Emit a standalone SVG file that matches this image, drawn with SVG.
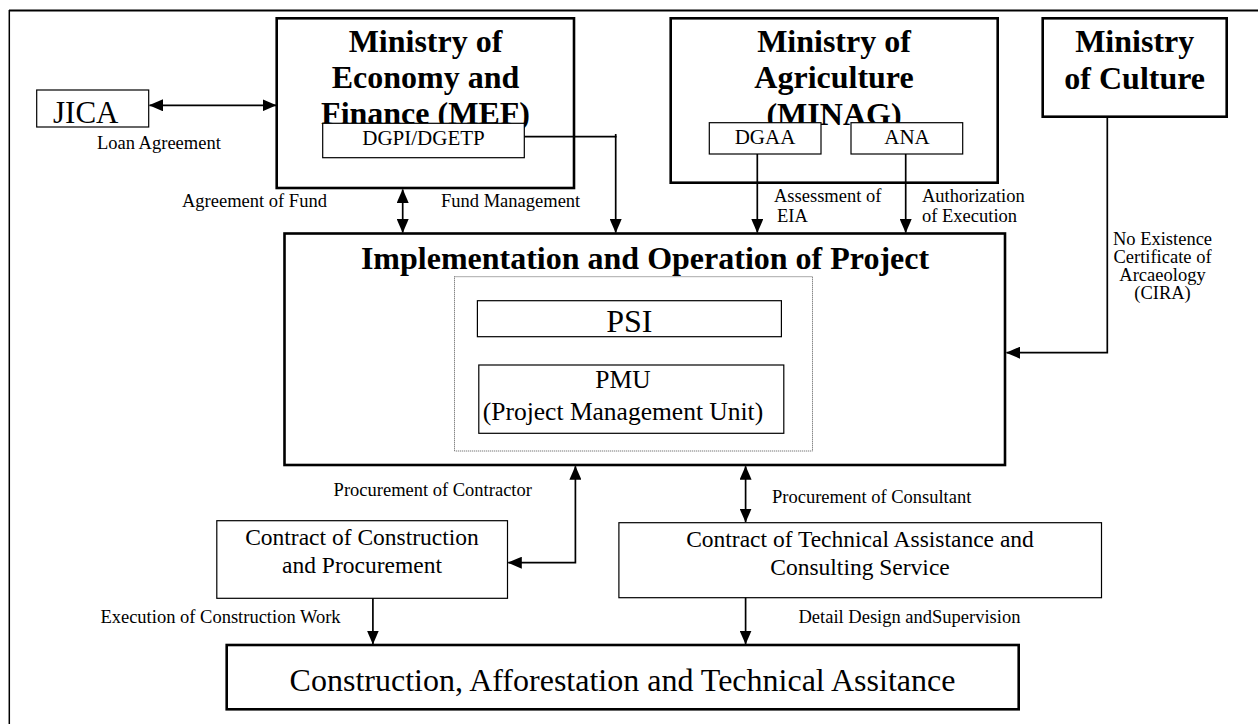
<svg xmlns="http://www.w3.org/2000/svg" width="1258" height="724" viewBox="0 0 1258 724">
  <style>
    text { font-family: "Liberation Serif", "Times New Roman", serif; fill: #000; }
    .big { font-size: 32px; font-weight: bold; text-anchor: middle; }
    .lbl { font-size: 18.5px; }
    .mid { text-anchor: middle; }
    .sub { font-size: 21px; text-anchor: middle; }
    .ctr { font-size: 23.5px; text-anchor: middle; }
    .thick { fill: #fff; stroke: #000; stroke-width: 2.6; }
    .thin { fill: #fff; stroke: #000; stroke-width: 1.2; }
    .dotted { fill: none; stroke: #555; stroke-width: 1; stroke-dasharray: 1 1; }
    .conn { fill: none; stroke: #000; stroke-width: 1.7; }
    .frame { fill: none; stroke: #000; }
  </style>
  <defs>
    <marker id="arrow" viewBox="0 0 14 12" refX="13.5" refY="6" markerWidth="14" markerHeight="12" markerUnits="userSpaceOnUse" orient="auto-start-reverse">
      <path d="M0,0 L14,6 L0,12 z" fill="#000"/>
    </marker>
  </defs>

  <rect width="1258" height="724" fill="#fff"/>

  <!-- page frame -->
  <g id="frame">
    <line class="frame" x1="9" y1="10.5" x2="1258" y2="10.5" stroke-width="2.2"/>
    <line class="frame" x1="9.3" y1="10" x2="9.3" y2="724" stroke-width="1.5"/>
  </g>

  <!-- nodes -->
  <g id="jica">
    <rect class="thin" x="36.7" y="90" width="112" height="37"/>
    <text x="53" y="122.5" font-size="31">JICA</text>
  </g>

  <g id="mef">
    <rect class="thick" x="276.7" y="18.3" width="297.3" height="169.7"/>
    <text class="big" x="425.5" y="52">Ministry of</text>
    <text class="big" x="425.5" y="88">Economy and</text>
    <text class="big" x="425.5" y="124">Finance (MEF)</text>
  </g>
  <g id="dgpi">
    <rect class="thin" x="322.7" y="123.3" width="201.6" height="34.4"/>
    <text class="sub" x="423.5" y="145.3">DGPI/DGETP</text>
  </g>

  <g id="minag">
    <rect class="thick" x="670.7" y="18.3" width="327" height="164.4"/>
    <text class="big" x="834" y="52">Ministry of</text>
    <text class="big" x="834" y="88">Agriculture</text>
    <text class="big" x="834" y="125">(MINAG)</text>
  </g>
  <g id="dgaa">
    <rect class="thin" x="709.3" y="122.7" width="111.7" height="31.3"/>
    <text class="sub" x="765" y="143.5">DGAA</text>
  </g>
  <g id="ana">
    <rect class="thin" x="851" y="122.7" width="111.7" height="31.3"/>
    <text class="sub" x="907" y="143.5">ANA</text>
  </g>

  <g id="culture">
    <rect class="thick" x="1042.7" y="18.3" width="184" height="98.4"/>
    <text class="big" x="1134.7" y="52">Ministry</text>
    <text class="big" x="1134.7" y="88.5">of Culture</text>
  </g>

  <g id="project">
    <rect class="thick" x="284.5" y="233.5" width="720.5" height="231.5"/>
    <text class="big" x="645" y="269.3">Implementation and Operation of Project</text>
    <rect class="dotted" x="454.5" y="276.7" width="358" height="174.3"/>
  </g>
  <g id="psi">
    <rect class="thin" x="477.4" y="300.7" width="304" height="36"/>
    <text class="mid" x="629.4" y="331.5" font-size="32">PSI</text>
  </g>
  <g id="pmu">
    <rect class="thin" x="478.8" y="365" width="305" height="68.3"/>
    <text class="mid" x="623" y="388.3" font-size="25.5">PMU</text>
    <text class="mid" x="623" y="420" font-size="25.5">(Project Management Unit)</text>
  </g>

  <g id="contract-construction">
    <rect class="thin" x="216.8" y="520.7" width="290.7" height="77.6"/>
    <text class="ctr" x="362" y="545">Contract of Construction</text>
    <text class="ctr" x="362" y="573.3">and Procurement</text>
  </g>

  <g id="contract-consulting">
    <rect class="thin" x="618.9" y="522.7" width="482.6" height="75"/>
    <text class="ctr" x="860" y="546.7">Contract of Technical Assistance and</text>
    <text class="ctr" x="860" y="575">Consulting Service</text>
  </g>

  <g id="construction">
    <rect class="thick" x="226.7" y="645" width="792" height="64.3"/>
    <text class="mid" x="622.5" y="690.7" font-size="32">Construction, Afforestation and Technical Assitance</text>
  </g>

  <!-- connectors -->
  <g id="connectors">
    <line class="conn" x1="149.5" y1="105.3" x2="276" y2="105.3" marker-start="url(#arrow)" marker-end="url(#arrow)"/>
    <line class="conn" x1="402.7" y1="189.5" x2="402.7" y2="232.5" marker-start="url(#arrow)" marker-end="url(#arrow)"/>
    <polyline class="conn" points="524.3,136.7 615.7,136.7 615.7,232.5" marker-end="url(#arrow)"/>
    <line class="conn" x1="615.7" y1="134" x2="615.7" y2="137.5"/>
    <line class="conn" x1="757.3" y1="154" x2="757.3" y2="232.5" marker-end="url(#arrow)"/>
    <line class="conn" x1="905.7" y1="154" x2="905.7" y2="232.5" marker-end="url(#arrow)"/>
    <polyline class="conn" points="1107.3,116.7 1107.3,352.7 1006.5,352.7" marker-end="url(#arrow)"/>
    <polyline class="conn" points="575.4,466.3 575.4,562.7 508.3,562.7" marker-start="url(#arrow)" marker-end="url(#arrow)"/>
    <line class="conn" x1="745.6" y1="466.3" x2="745.6" y2="522" marker-start="url(#arrow)" marker-end="url(#arrow)"/>
    <line class="conn" x1="372.9" y1="598.3" x2="372.9" y2="644" marker-end="url(#arrow)"/>
    <line class="conn" x1="745.6" y1="597.7" x2="745.6" y2="644" marker-end="url(#arrow)"/>
  </g>

  <!-- connector labels -->
  <g id="labels">
    <text class="lbl" x="97" y="149">Loan Agreement</text>
    <text class="lbl" x="182" y="207">Agreement of Fund</text>
    <text class="lbl" x="441" y="207">Fund Management</text>
    <text class="lbl" x="774" y="202">Assessment of</text>
    <text class="lbl" x="777" y="222">EIA</text>
    <text class="lbl" x="922" y="202">Authorization</text>
    <text class="lbl" x="922" y="222">of Execution</text>
    <text class="lbl mid" x="1162.5" y="245">No Existence</text>
    <text class="lbl mid" x="1162.5" y="263">Certificate of</text>
    <text class="lbl mid" x="1162.5" y="281">Arcaeology</text>
    <text class="lbl mid" x="1162.5" y="299">(CIRA)</text>
    <text class="lbl" x="333.6" y="495.7">Procurement of Contractor</text>
    <text class="lbl" x="772" y="502.7">Procurement of Consultant</text>
    <text class="lbl" x="100.4" y="622.7">Execution of Construction Work</text>
    <text class="lbl" x="798.5" y="623.3">Detail Design andSupervision</text>
  </g>
</svg>
